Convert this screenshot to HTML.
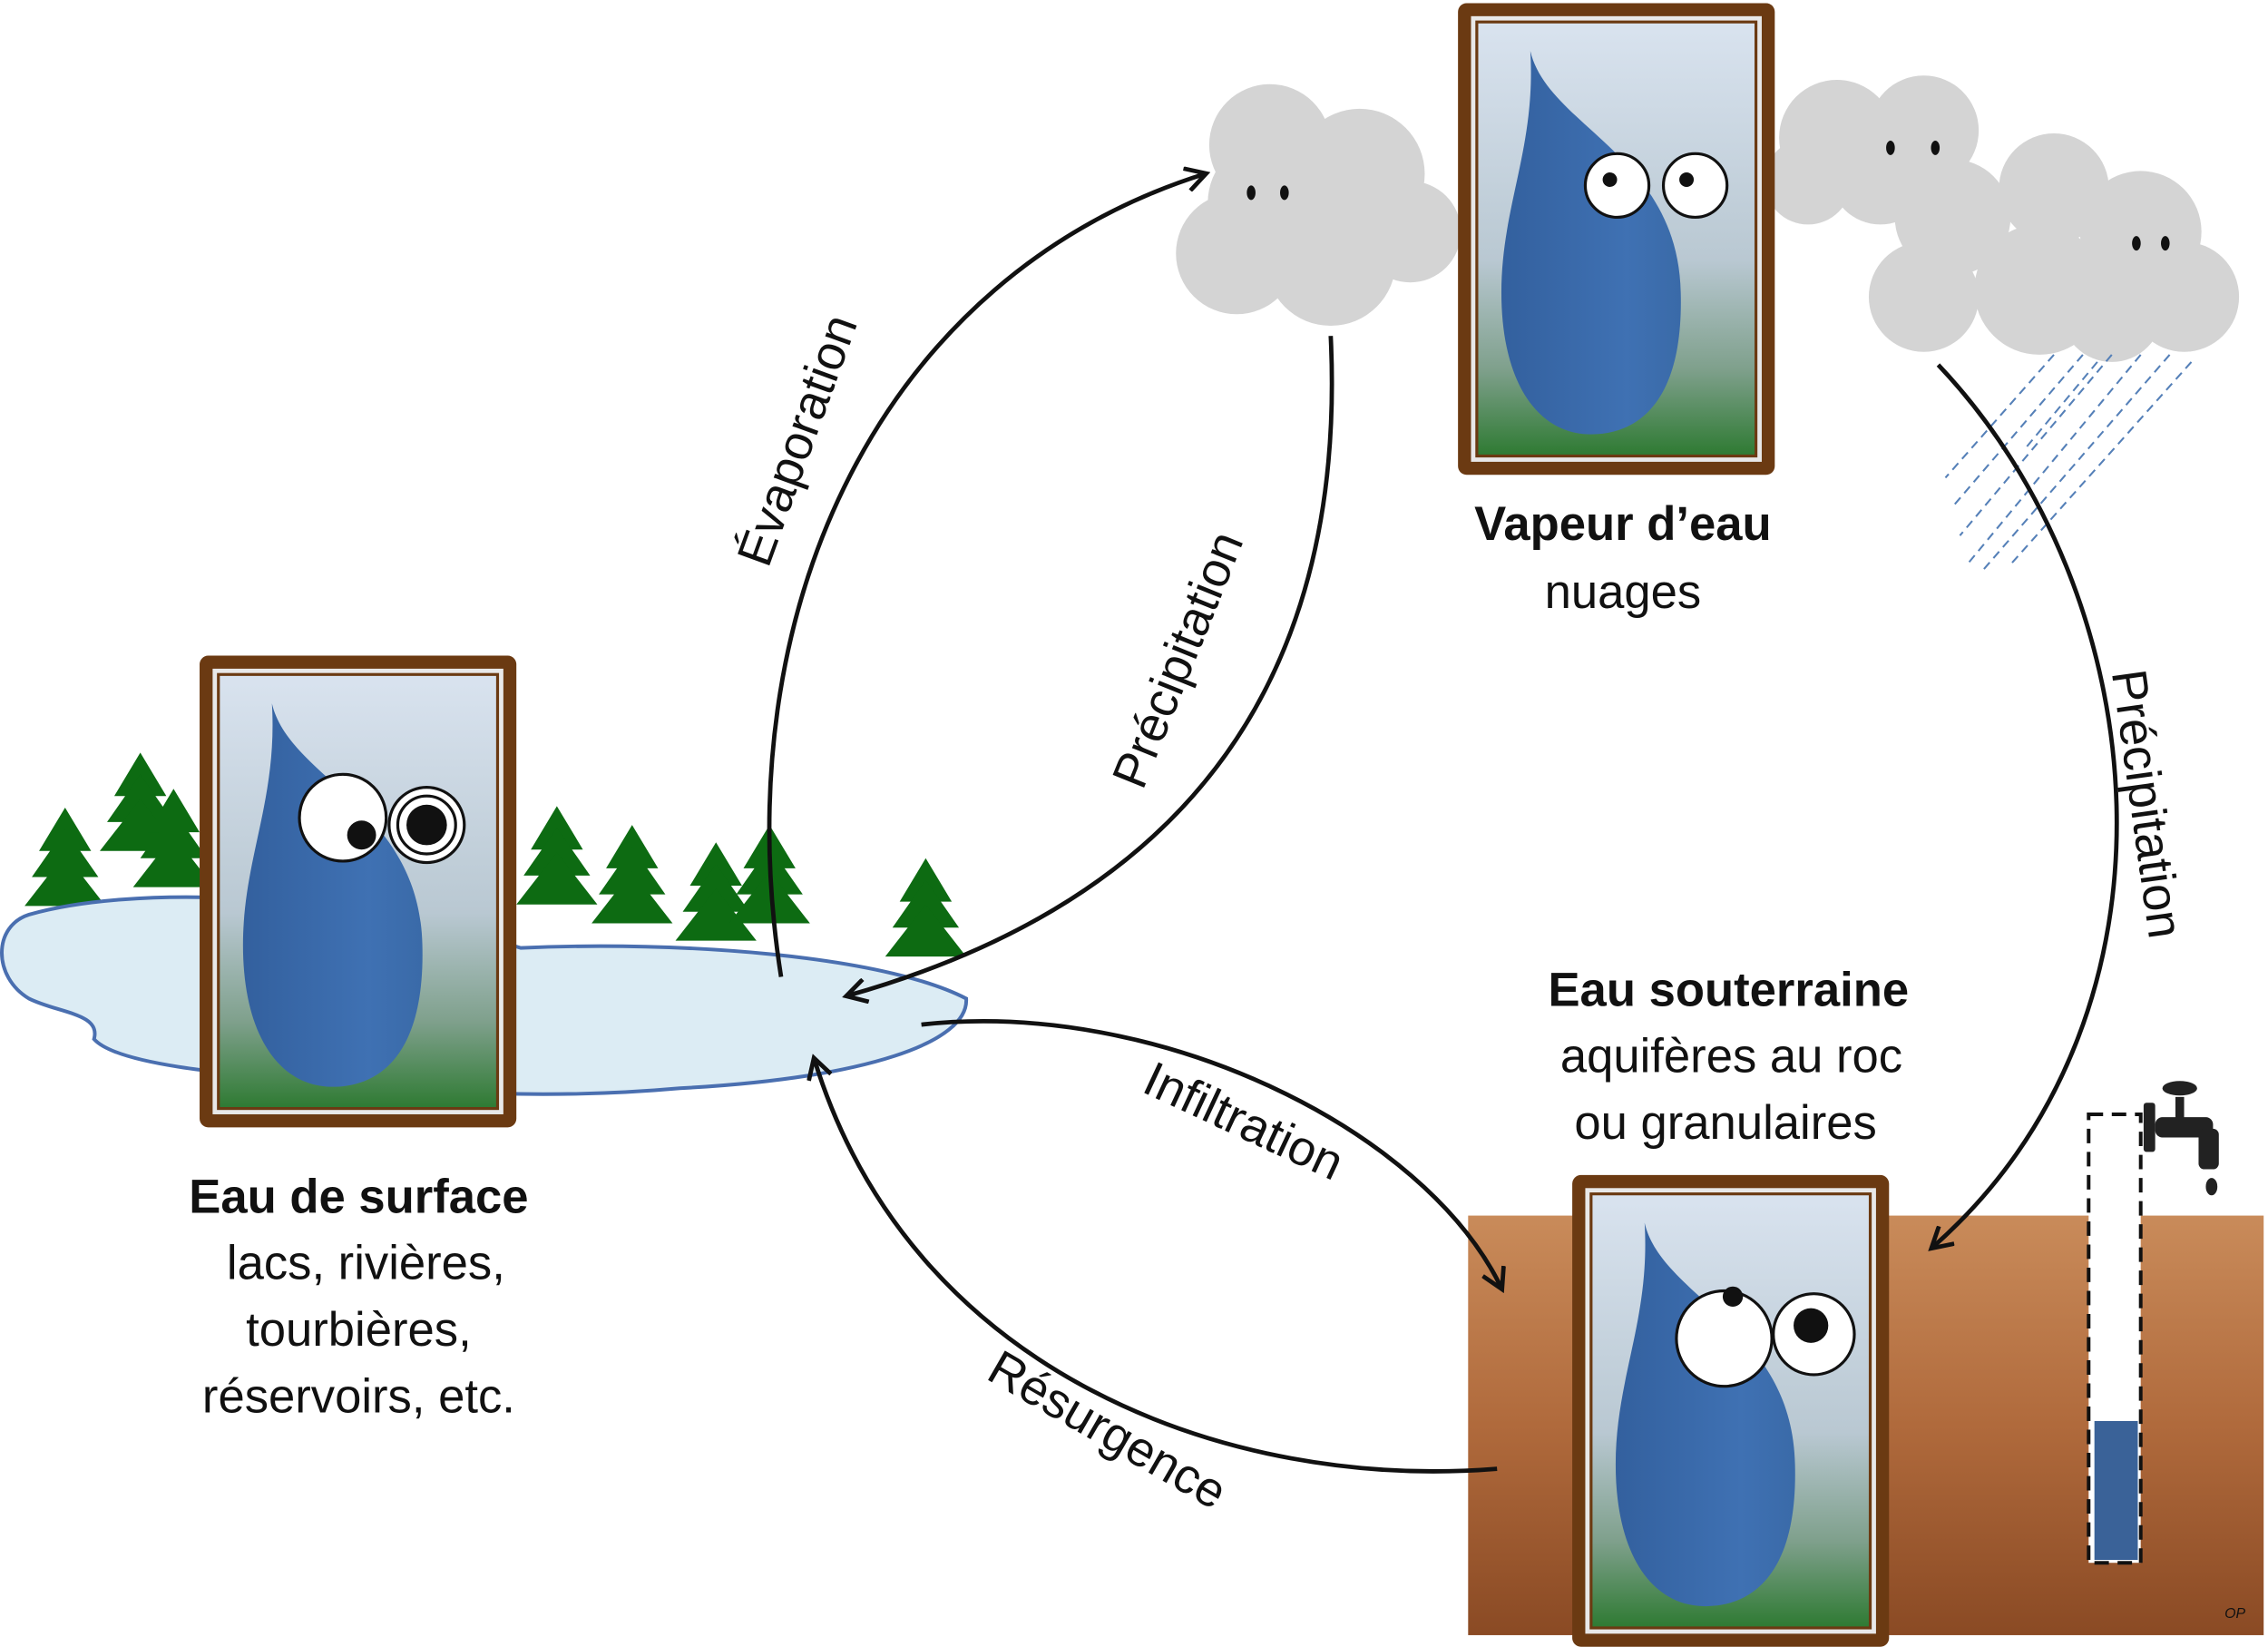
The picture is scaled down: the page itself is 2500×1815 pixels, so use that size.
<!DOCTYPE html>
<html><head><meta charset="utf-8"><style>
html,body{margin:0;padding:0;background:#fff}
svg{display:block}
text{font-family:"Liberation Sans","DejaVu Sans",sans-serif;fill:#111}
</style></head><body>
<svg width="2500" height="1815" viewBox="0 0 1568 1138" xmlns="http://www.w3.org/2000/svg">
<defs>
<linearGradient id="bg" x1="0" y1="0" x2="0" y2="1">
<stop offset="0" stop-color="#d9e3ef"/><stop offset="0.55" stop-color="#b9c8d2"/><stop offset="0.8" stop-color="#7fa08c"/><stop offset="1" stop-color="#2e7a32"/></linearGradient>
<linearGradient id="ground" x1="0" y1="0" x2="0" y2="1">
<stop offset="0" stop-color="#c98b5a"/><stop offset="0.5" stop-color="#b06a3c"/><stop offset="1" stop-color="#8a4a24"/></linearGradient>
<linearGradient id="drop" x1="0" y1="0" x2="1" y2="0">
<stop offset="0" stop-color="#33609e"/><stop offset="0.7" stop-color="#3f71b3"/><stop offset="1" stop-color="#3a6aa8"/></linearGradient>
<marker id="ah" markerWidth="18" markerHeight="18" refX="14" refY="9" orient="auto" markerUnits="userSpaceOnUse" viewBox="0 0 18 18">
<polyline points="1,1 15,9 1,17" fill="none" stroke="#111" stroke-width="3"/></marker>
<g id="frame">
<rect x="0" y="0" width="219" height="326" rx="6" fill="#6b3a12"/>
<rect x="9" y="9" width="201" height="308" fill="#e8e8e8"/>
<rect x="13" y="13" width="193" height="300" fill="url(#bg)" stroke="#6b3a12" stroke-width="2"/>
<path d="M50,33 C62,85 152,105 154,200 C156,275 125,298 92,298 C55,298 30,262 30,200 C30,140 54,100 50,33 Z" fill="url(#drop)"/>
</g>
<g id="tree">
<polygon points="0,0 -18,30 18,30" fill="#0d6b12"/>
<polygon points="0,15 -23,48 23,48" fill="#0d6b12"/>
<polygon points="0,32 -28,68 28,68" fill="#0d6b12"/>
</g>
</defs>

<rect x="1015" y="840" width="550" height="290" fill="url(#ground)"/>

<use href="#tree" x="45" y="558"/>
<use href="#tree" x="97" y="520"/>
<use href="#tree" x="120" y="545"/>
<use href="#tree" x="385" y="557"/>
<use href="#tree" x="437" y="570"/>
<use href="#tree" x="495" y="582"/>
<use href="#tree" x="532" y="570"/>
<use href="#tree" x="640" y="593"/>

<path d="M20,632 C90,612 230,615 360,655 C470,650 610,660 668,690 C670,720 600,745 470,752 C380,760 300,755 230,748 C150,742 80,735 65,718 C70,700 40,700 20,690 C-5,675 -5,640 20,632 Z" fill="#dcecf4" stroke="#4a6fb0" stroke-width="2.5"/>

<g fill="#d4d4d4">
<circle cx="878" cy="100" r="42"/><circle cx="940" cy="120" r="45"/><circle cx="855" cy="175" r="42"/><circle cx="920" cy="180" r="45"/><circle cx="975" cy="160" r="35"/><circle cx="880" cy="140" r="45"/>
<circle cx="1270" cy="95" r="40"/><circle cx="1330" cy="90" r="38"/><circle cx="1250" cy="125" r="30"/><circle cx="1300" cy="120" r="35"/>
<circle cx="1350" cy="150" r="40"/><circle cx="1420" cy="130" r="38"/><circle cx="1480" cy="160" r="42"/><circle cx="1510" cy="205" r="38"/><circle cx="1330" cy="205" r="38"/><circle cx="1410" cy="200" r="45"/><circle cx="1460" cy="215" r="35"/>
</g>
<g fill="#111">
<ellipse cx="865" cy="133" rx="3" ry="5"/><ellipse cx="888" cy="133" rx="3" ry="5"/>
<ellipse cx="1307" cy="102" rx="3" ry="5"/><ellipse cx="1338" cy="102" rx="3" ry="5"/>
<ellipse cx="1477" cy="168" rx="3" ry="5"/><ellipse cx="1497" cy="168" rx="3" ry="5"/>
</g>
<g stroke="#5580b8" stroke-width="1.3" stroke-dasharray="6,4">
<line x1="1420" y1="245" x2="1345" y2="330"/><line x1="1440" y1="245" x2="1350" y2="350"/><line x1="1460" y1="245" x2="1355" y2="370"/><line x1="1480" y1="245" x2="1360" y2="390"/><line x1="1500" y1="245" x2="1370" y2="395"/><line x1="1515" y1="250" x2="1390" y2="390"/><line x1="1450" y1="250" x2="1400" y2="310"/>
</g>

<use href="#frame" x="1008" y="2"/>
<use href="#frame" x="138" y="453"/>
<use href="#frame" x="1087" y="812"/>

<g stroke="#111" stroke-width="2" fill="#fff">
<circle cx="1118" cy="128" r="22"/><circle cx="1172" cy="128" r="22"/>
<circle cx="237" cy="565" r="30"/><circle cx="295" cy="570" r="26"/><circle cx="295" cy="570" r="20"/>
<circle cx="1192" cy="925" r="33"/><circle cx="1254" cy="922" r="28"/>
</g>
<g fill="#111">
<circle cx="1113" cy="124" r="5"/><circle cx="1166" cy="124" r="5"/>
<circle cx="250" cy="577" r="10"/><circle cx="295" cy="570" r="14"/>
<circle cx="1198" cy="896" r="7"/><circle cx="1252" cy="916" r="12"/>
</g>

<rect x="1444" y="770" width="36" height="310" fill="#fff" stroke="#111" stroke-width="2.5" stroke-dasharray="10,6"/>
<rect x="1448" y="982" width="30" height="96" fill="#3a6298"/>
<g fill="#222">
<rect x="1490" y="772" width="40" height="14" rx="5"/>
<rect x="1482" y="762" width="8" height="34" rx="2"/>
<rect x="1520" y="780" width="14" height="28" rx="4"/>
<rect x="1504" y="758" width="6" height="16"/>
<ellipse cx="1507" cy="752" rx="12" ry="5"/>
<ellipse cx="1529" cy="820" rx="4" ry="6"/>
</g>

<g fill="none" stroke="#111" stroke-width="3" marker-end="url(#ah)">
<path d="M540,675 C500,420 610,190 833,120"/>
<path d="M920,232 C932,480 810,625 586,688"/>
<path d="M1340,252 C1490,410 1520,700 1336,862"/>
<path d="M637,708 C800,690 985,780 1038,890"/>
<path d="M1035,1015 C850,1030 630,950 563,732"/>
</g>

<g font-size="34">
<text transform="translate(562,308) rotate(-70)" text-anchor="middle">Évaporation</text>
<text transform="translate(825,460) rotate(-68)" text-anchor="middle">Précipitation</text>
<text transform="translate(1473,557) rotate(82)" text-anchor="middle">Précipitation</text>
<text transform="translate(855,785) rotate(25)" text-anchor="middle">Infiltration</text>
<text transform="translate(760,998) rotate(30)" text-anchor="middle">Résurgence</text>
</g>
<g font-size="33" text-anchor="middle">
<text x="248" y="838" font-weight="bold">Eau de surface</text>
<text x="253" y="884">lacs, rivières,</text>
<text x="248" y="930">tourbières,</text>
<text x="248" y="976">réservoirs, etc.</text>
<text x="1122" y="373" font-weight="bold">Vapeur d’eau</text>
<text x="1122" y="420">nuages</text>
<text x="1195" y="695" font-weight="bold">Eau souterraine</text>
<text x="1197" y="741">aquifères au roc</text>
<text x="1193" y="787">ou granulaires</text>
</g>
<text x="1538" y="1118" font-size="10" font-style="italic">OP</text>
</svg>
</body></html>
